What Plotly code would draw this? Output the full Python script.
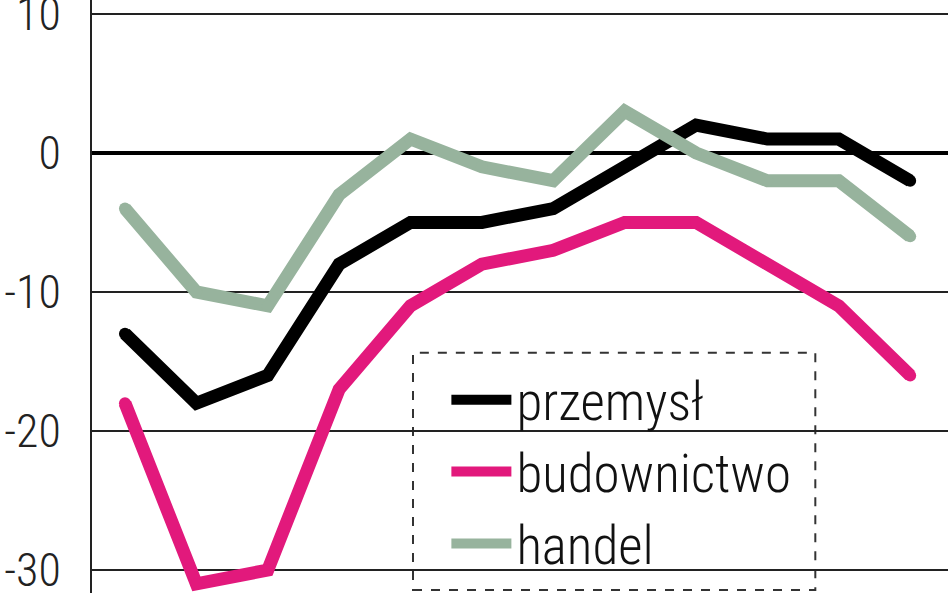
import plotly.graph_objects as go

# twelve consecutive periods (no labels shown on the chart)
periods = list(range(12))

przemysl = [-13, -18, -16, -8, -5, -5, -4, -1, 2, 1, 1, -2]
budownictwo = [-18, -31, -30, -17, -11, -8, -7, -5, -5, -8, -11, -16]
handel = [-4, -10, -11, -3, 1, -1, -2, 3, 0, -2, -2, -6]

y_ticks = [-30, -20, -10, 0, 10]
y_labels = ["-30", "-20", "-10", "0", "10"]

FONT = "Roboto Condensed, Liberation Sans Narrow, sans-serif"

fig = go.Figure()

series = [
    ("przemysł", przemysl, "#000000"),
    ("budownictwo", budownictwo, "#e2197c"),
    ("handel", handel, "#97b39d"),
]
for name, values, color in series:
    fig.add_trace(go.Scatter(
        x=periods,
        y=values,
        mode="lines",
        name=name,
        line=dict(color=color, width=13),
    ))
    # round dots at the vertices mimic the rounded joins/ends of the original
    fig.add_trace(go.Scatter(
        x=periods,
        y=values,
        mode="markers",
        showlegend=False,
        hoverinfo="skip",
        marker=dict(color=color, size=12, line=dict(width=0)),
    ))

# dashed frame behind the legend
fig.add_shape(
    type="rect", xref="paper", yref="paper",
    x0=0.375, x1=0.845, y0=0.005, y1=0.405,
    line=dict(color="#333333", width=2, dash="dash"),
    fillcolor="white", layer="between",
)

fig.update_layout(
    width=948,
    height=593,
    margin=dict(l=92, r=0, t=0, b=0),
    paper_bgcolor="white",
    plot_bgcolor="white",
    font=dict(family=FONT, color="#1a1a1a"),
    showlegend=True,
    legend=dict(
        x=0.414, y=0.395, xanchor="left", yanchor="top",
        bgcolor="rgba(0,0,0,0)",
        font=dict(size=53, family=FONT, color="#111111", weight=300),
        itemwidth=60,
        tracegroupgap=0,
    ),
    xaxis=dict(
        range=[-0.462, 11.53],
        showgrid=False, zeroline=False, showticklabels=False,
        showline=False, automargin=False,
    ),
    yaxis=dict(
        range=[-31.65, 11.0],
        tickvals=y_ticks, ticktext=y_labels,
        tickfont=dict(size=46, family=FONT, color="#222222", weight=300),
        ticklabelstandoff=20,
        ticklabeloverflow="allow",
        automargin=False,
        showgrid=True, gridcolor="#222222", gridwidth=2,
        zeroline=True, zerolinecolor="#000000", zerolinewidth=4,
        showline=True, linecolor="#222222", linewidth=2,
    ),
)

# drop the default 8px page margin so the figure sits in the window corner
fig.write_html(
    "out.html",
    config={"displayModeBar": False},
    post_script="document.body.style.margin='0';",
)
